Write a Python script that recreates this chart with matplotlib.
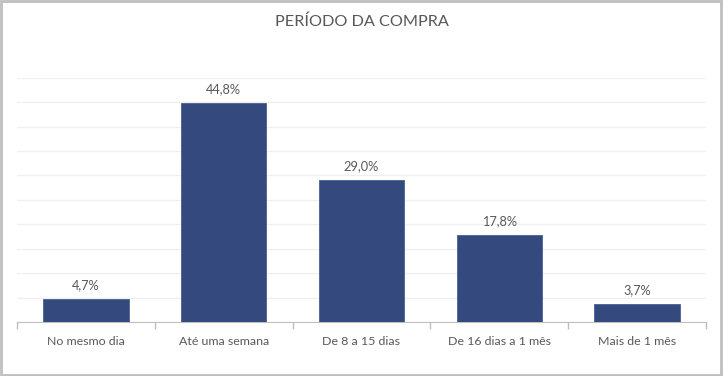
import matplotlib.pyplot as plt
from matplotlib.patches import Rectangle

categorias = ["No mesmo dia", "Até uma semana", "De 8 a 15 dias",
              "De 16 dias a 1 mês", "Mais de 1 mês"]
valores = [4.7, 44.8, 29.0, 17.8, 3.7]

BAR_COLOR  = "#34497d"
TEXT_COLOR = "#595959"
GRID_COLOR = "#f0f0f0"

plt.rcParams["font.family"] = ["Lato", "DejaVu Sans"]

fig = plt.figure(figsize=(7.23, 3.76), dpi=100)
ax = fig.add_axes([17 / 723, 1 - 322 / 376, 689 / 723, (322 - 77.7) / 376])

x = range(len(categorias))
ax.bar(x, valores, width=0.62, color=BAR_COLOR, edgecolor="#4a5f91", linewidth=0.6, zorder=3)

for xi, v in zip(x, valores):
    ax.text(xi, v + 2.9, f"{v:.1f}%".replace(".", ","), ha="center", va="center",
            fontsize=9.2, color=TEXT_COLOR)

ax.set_xlim(-0.5, len(categorias) - 0.5)
ax.set_ylim(0, 50)
ax.set_yticks(range(0, 51, 5))
ax.yaxis.grid(True, color=GRID_COLOR, linewidth=1, zorder=0)
ax.tick_params(axis="y", left=False, labelleft=False)

# category boundaries as tick marks, labels centered under bars
ax.set_xticks([i - 0.5 for i in range(len(categorias) + 1)])
ax.set_xticklabels([])
ax.set_xticks(list(x), minor=True)
ax.set_xticklabels(categorias, minor=True, fontsize=8.9, color=TEXT_COLOR)
ax.tick_params(axis="x", which="major", length=5, color="#bfbfbf", width=1)
ax.tick_params(axis="x", which="minor", length=0, pad=10)

for s in ["top", "right", "left"]:
    ax.spines[s].set_visible(False)
ax.spines["bottom"].set_color("#bfbfbf")

fig.text(0.5, 1 - 22 / 376, "PERÍODO DA COMPRA", ha="center", va="center",
         fontsize=11.7, color=TEXT_COLOR)

fig.patches.append(Rectangle((0.001, 0.002), 0.996, 0.995, transform=fig.transFigure,
                             fill=False, edgecolor="#bfbfbf", linewidth=2))

fig.savefig("out.png", dpi=100)
